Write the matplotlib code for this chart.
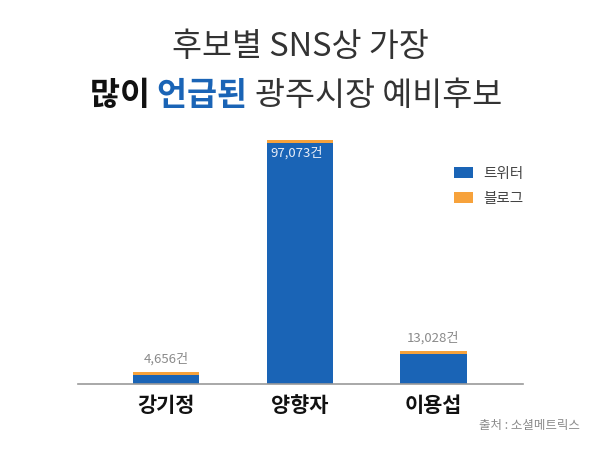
import numpy as np
import matplotlib.pyplot as plt

plt.rcParams['font.family'] = ['Noto Sans CJK KR', 'DejaVu Sans']

# data
candidates = ['강기정', '양향자', '이용섭']
totals = [4656, 97073, 13028]
blog = [1150, 1250, 1150]
twitter = [t - b for t, b in zip(totals, blog)]
total_labels = ['4,656건', '97,073건', '13,028건']

blue = '#1a64b6'
orange = '#f7a23b'

fig = plt.figure(figsize=(6, 4.5), dpi=100)
ymax = 101000
ax_h = 244 * ymax / 97073 / 450
ax = fig.add_axes([78 / 600, (450 - 383.5) / 450, 445 / 600, ax_h])

x = np.arange(len(candidates))
w = 0.495
ax.bar(x, twitter, width=w, color=blue, label='트위터')
ax.bar(x, blog, width=w, bottom=twitter, color=orange, label='블로그')

ax.set_xlim(-0.66, 2.67)
ax.set_ylim(0, ymax)
ax.set_yticks([])
for s in ['top', 'right', 'left']:
    ax.spines[s].set_visible(False)
ax.spines['bottom'].set_color('#9a9a9a')
ax.spines['bottom'].set_linewidth(1.2)
ax.set_xticks(x)
ax.set_xticklabels(candidates, fontsize=15, fontweight='bold', color='#111111')
ax.tick_params(axis='x', length=0, pad=8)

# value labels
for i, (t, lab) in enumerate(zip(totals, total_labels)):
    if i == 1:
        ax.text(i - w / 2 + 0.03, t - 2800, lab, ha='left', va='top',
                fontsize=9.5, color='#e8eef8')
    else:
        ax.text(i, t + 2500, lab, ha='center', va='bottom',
                fontsize=9.5, color='#8a8a8a')

leg = ax.legend(loc='upper left', bbox_to_anchor=(0.815, 0.905), frameon=False,
                fontsize=10.5, handlelength=1.3, handleheight=0.75,
                labelspacing=0.75, handletextpad=0.7)
for t in leg.get_texts():
    t.set_color('#444444')

# title line 1
fig.text(0.5, 1 - 47 / 450, '후보별 SNS상 가장', ha='center', va='center',
         fontsize=23.5, fontweight='light', color='#333333')

# title line 2 with mixed styles
parts = [('많이 ', 'bold', '#111111'),
         ('언급된 ', 'bold', blue),
         ('광주시장 예비후보', 'light', '#333333')]
fig.canvas.draw()
renderer = fig.canvas.get_renderer()
texts = []
widths = []
for s, wt, c in parts:
    t = fig.text(0, 1 - 96 / 450, s, ha='left', va='center', fontsize=23.5,
                 fontweight=wt, color=c)
    bb = t.get_window_extent(renderer)
    texts.append(t)
    widths.append(bb.width)
total_w = sum(widths)
xpos = 296 - total_w / 2
for t, wd in zip(texts, widths):
    t.set_x(xpos / 600)
    xpos += wd

fig.text(580 / 600, 1 - 425 / 450, '출처 : 소셜메트릭스', ha='right', va='center',
         fontsize=9, color='#8a8a8a')

fig.savefig('out.png', dpi=100, facecolor='white')
